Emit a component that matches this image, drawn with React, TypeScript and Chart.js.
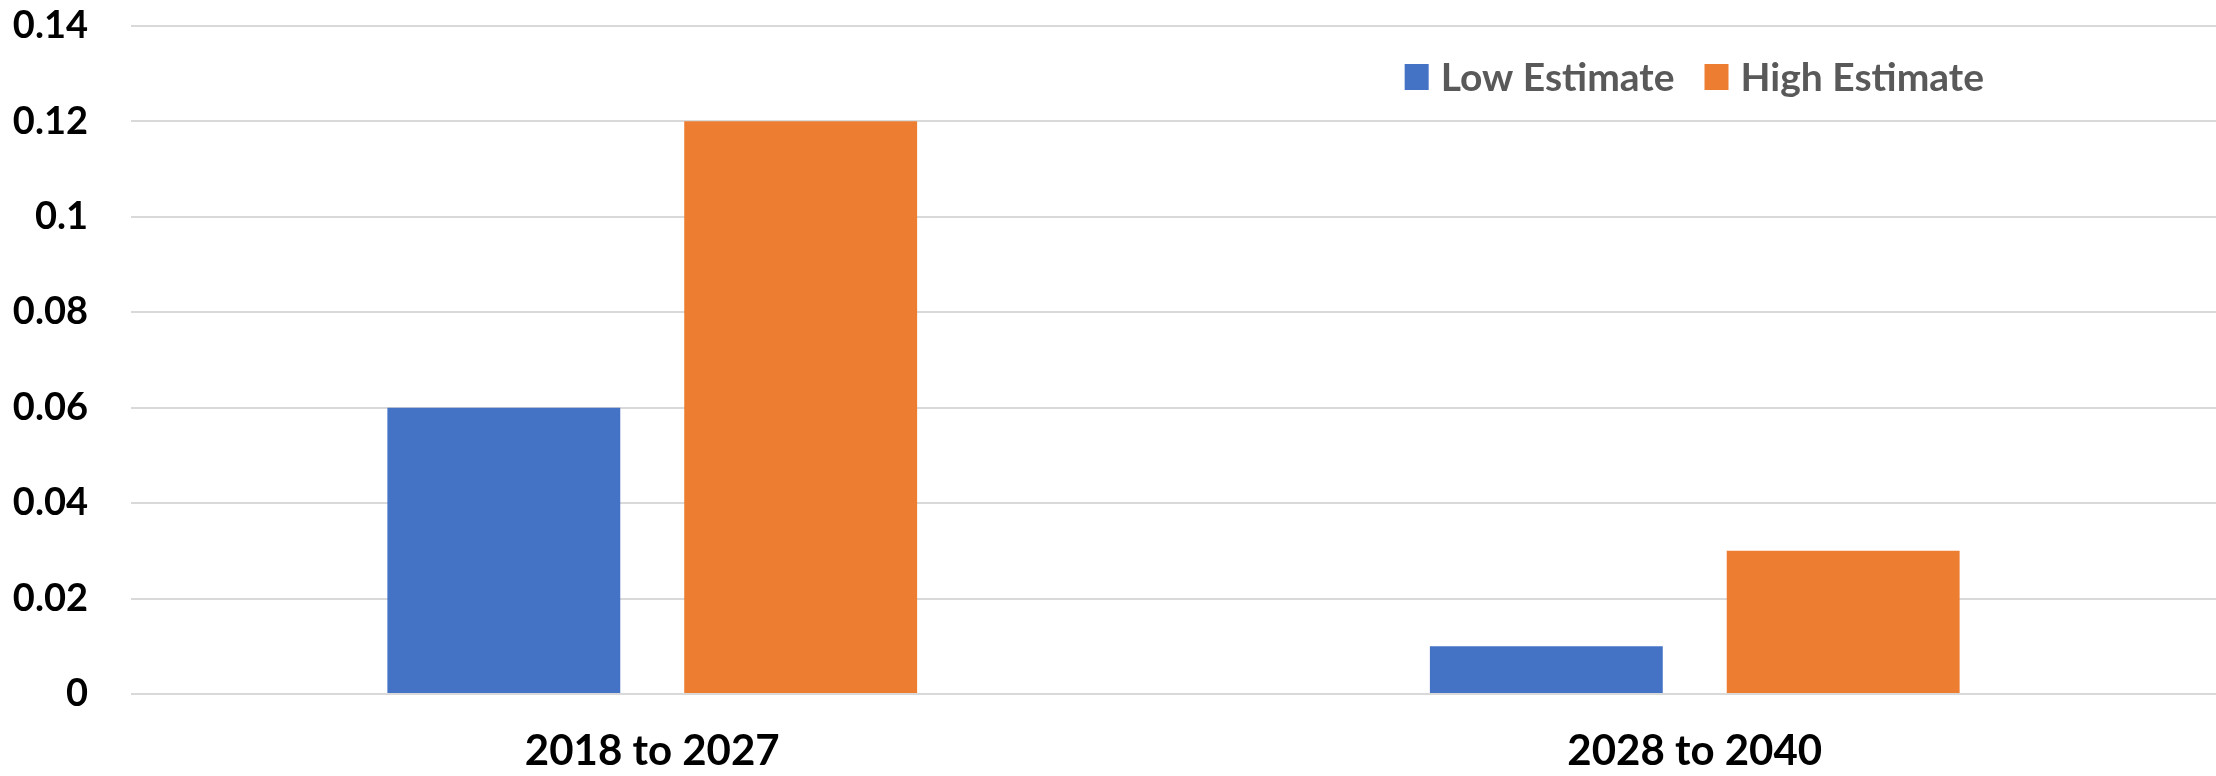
import React, { useEffect, useRef } from "react";
import { Chart, registerables } from "chart.js";

Chart.register(...registerables);

const categories = ["2018 to 2027", "2028 to 2040"];
const lowEstimate = [0.06, 0.01];
const highEstimate = [0.12, 0.03];
const seriesNames = ["Low Estimate", "High Estimate"];
const seriesColors = ["#4472C4", "#ED7D31"];
const yTickLabels = ["0", "0.02", "0.04", "0.06", "0.08", "0.1", "0.12", "0.14"];

const FONT = "Lato, 'Open Sans', sans-serif";

const insideLegend = {
  id: "insideLegend",
  afterDraw(chart: any) {
    const ctx = chart.ctx as CanvasRenderingContext2D;
    ctx.save();
    ctx.font = `bold 39px ${FONT}`;
    ctx.textBaseline = "middle";
    const boxW = 24;
    const boxH = 26;
    const gapBoxText = 12;
    const gapItems = 30;
    const items = chart.data.datasets.map((d: any) => ({
      label: d.label,
      color: d.backgroundColor,
      w: ctx.measureText(d.label).width,
    }));
    const total = items.reduce((s: number, it: any) => s + boxW + gapBoxText + it.w, 0) + gapItems * (items.length - 1);
    const rightEdge = chart.width - 232;
    let x = rightEdge - total;
    const cy = 77;
    for (const it of items) {
      ctx.fillStyle = it.color;
      ctx.fillRect(x, cy - boxH / 2, boxW, boxH);
      x += boxW + gapBoxText;
      ctx.fillStyle = "#595959";
      ctx.fillText(it.label, x, cy + 1);
      x += it.w + gapItems;
    }
    ctx.restore();
  },
};

export default function App() {
  const ref = useRef<HTMLCanvasElement | null>(null);
  useEffect(() => {
    if (!ref.current) return;
    const chart = new Chart(ref.current, {
      type: "bar",
      data: {
        labels: categories,
        datasets: [
          { label: seriesNames[0], data: lowEstimate, backgroundColor: seriesColors[0], borderWidth: 0 },
          { label: seriesNames[1], data: highEstimate, backgroundColor: seriesColors[1], borderWidth: 0 },
        ],
      },
      options: {
        responsive: false,
        animation: false,
        layout: { padding: { top: 24, left: 0, right: 0, bottom: 0 } },
        datasets: {
          bar: { categoryPercentage: 0.5695, barPercentage: 0.7845 },
        },
        plugins: {
          legend: { display: false },
          tooltip: { enabled: false },
        },
        scales: {
          x: {
            grid: { display: false, drawTicks: false, tickLength: 0 },
            border: { display: false },
            afterFit: (scale: any) => {
              scale.height = 82;
            },
            ticks: {
              color: "#000000",
              font: { family: FONT, size: 42, weight: "bold" },
              padding: 32,
            },
          },
          y: {
            min: 0,
            max: 0.14,
            grid: { color: "#D9D9D9", lineWidth: 2, drawTicks: true, tickLength: 40, tickColor: "rgba(0,0,0,0)" },
            border: { display: false },
            afterFit: (scale: any) => {
              scale.width = 131;
            },
            ticks: {
              stepSize: 0.02,
              color: "#000000",
              font: { family: FONT, size: 38, weight: "bold" },
              padding: 3,
              callback: (_v: any, i: number) => yTickLabels[i],
            },
          },
        },
      },
      plugins: [insideLegend],
    });
    return () => chart.destroy();
  }, []);
  return (
    <div style={{ position: "fixed", left: 0, top: 0, width: 2216, height: 776, background: "#ffffff" }}>
      <canvas ref={ref} width={2216} height={776} style={{ display: "block" }} />
    </div>
  );
}
